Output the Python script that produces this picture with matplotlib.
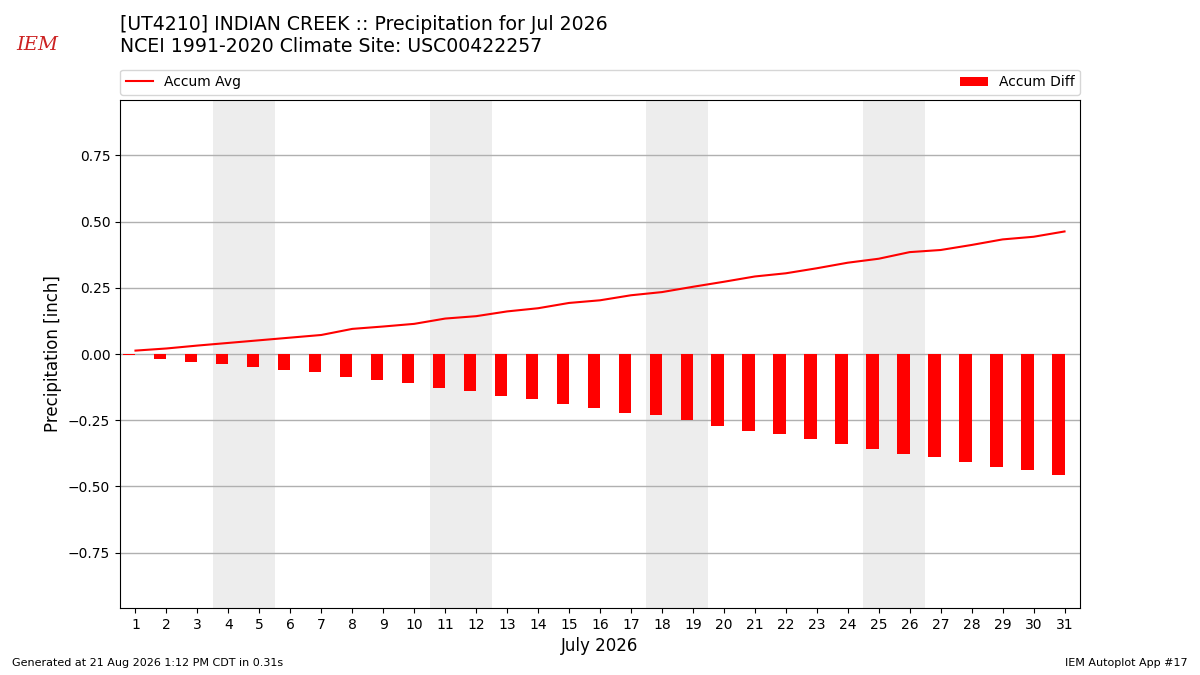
import matplotlib
matplotlib.use("Agg")
import matplotlib.pyplot as plt

days = list(range(1, 32))
accum_avg = [0.013, 0.021, 0.032, 0.042, 0.052, 0.062, 0.072, 0.095, 0.104, 0.114,
             0.134, 0.143, 0.161, 0.173, 0.193, 0.203, 0.222, 0.234, 0.254, 0.273,
             0.293, 0.305, 0.324, 0.345, 0.360, 0.385, 0.393, 0.412, 0.433, 0.443, 0.463]
accum_diff = [-0.005, -0.018, -0.029, -0.037, -0.048, -0.059, -0.067, -0.086, -0.097, -0.109,
              -0.128, -0.139, -0.160, -0.171, -0.190, -0.202, -0.221, -0.232, -0.251, -0.270,
              -0.289, -0.301, -0.320, -0.338, -0.357, -0.376, -0.388, -0.407, -0.426, -0.437, -0.456]
weekends = [(4, 5), (11, 12), (18, 19), (25, 26)]

fig = plt.figure(figsize=(12, 6.75), dpi=100)
ax = fig.add_axes([0.1, 0.099, 0.8, 0.753])

# weekend shading
for start, end in weekends:
    ax.axvspan(start - 0.5, end + 0.5, color="#ededed", zorder=0, lw=0)

ax.bar(days, accum_diff, width=-0.4, align="edge", color="red", label="Accum Diff", zorder=3)
ax.plot(days, accum_avg, color="red", lw=1.5, label="Accum Avg", zorder=4)

ax.set_xlim(0.5, 31.5)
ax.set_ylim(-0.96, 0.96)
ax.set_xticks(days)
ax.set_yticks([-0.75, -0.5, -0.25, 0, 0.25, 0.5, 0.75])
ax.yaxis.grid(True, color="#b0b0b0", lw=1, zorder=1)
ax.set_axisbelow(True)
ax.tick_params(labelsize=10)
ax.set_xlabel("July 2026", fontsize=12)
ax.set_ylabel("Precipitation [inch]", fontsize=12)

ax.legend(loc="lower left", bbox_to_anchor=(0, 1.01, 1, 0.05), ncol=2, mode="expand",
          borderaxespad=0, fontsize=10)

fig.text(0.1, 0.9644, "[UT4210] INDIAN CREEK :: Precipitation for Jul 2026",
         fontsize=13.6, va="center", ha="left")
fig.text(0.1, 0.9304, "NCEI 1991-2020 Climate Site: USC00422257",
         fontsize=13.6, va="center", ha="left")

# rough stand-in for the logo
fig.text(0.031, 0.933, "IEM", fontsize=14, color="#cc2222", family="serif", style="italic",
         ha="center", va="center")

fig.text(0.01, 0.013, "Generated at 21 Aug 2026 1:12 PM CDT in 0.31s", fontsize=8)
fig.text(0.99, 0.013, "IEM Autoplot App #17", fontsize=8, ha="right")

fig.savefig("out.png", dpi=100)
